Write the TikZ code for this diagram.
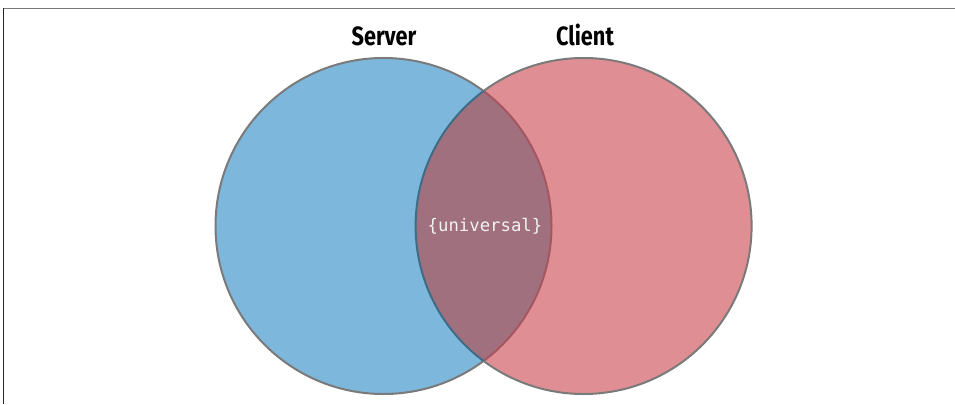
\documentclass[tikz,border=0pt]{standalone}
\usepackage{fontspec}
\newfontfamily\labelfont[FakeStretch=0.82]{Fira Sans}
\newfontfamily\codefont{DejaVu Sans Mono}
\definecolor{srvblue}{HTML}{7EB7DC}
\definecolor{clired}{HTML}{DF8F94}
\definecolor{overlap}{HTML}{A0707F}
\definecolor{rimgray}{HTML}{7A7A7A}
\definecolor{rimblue}{HTML}{3E6C85}
\definecolor{rimred}{HTML}{A65660}
\definecolor{codewhite}{HTML}{F2F2F2}
\tikzset{
  setlabel/.style={font=\labelfont\bfseries\fontsize{26.5}{26.5}\selectfont, text=black, anchor=base, inner sep=0pt},
  codelabel/.style={font=\codefont\fontsize{17.3}{17.3}\selectfont, text=codewhite, inner sep=0pt},
  rim/.style={line width=2pt}
}
\begin{document}
\begin{tikzpicture}[x=1pt,y=-1pt]
\useasboundingbox (0,0) rectangle (955,404);
\fill[white] (0,0) rectangle (955,404);
% frame
\draw[rimgray, line width=1.4pt] (3.5,8.7) -- (955,8.7);
\draw[black!85, line width=1.2pt] (3.7,8) -- (3.7,404);
% circles
\coordinate (cs) at (383.5,226);
\coordinate (cc) at (583.6,226);
\fill[srvblue] (cs) circle[radius=168];
\fill[clired] (cc) circle[radius=168];
\begin{scope}
  \clip (cs) circle[radius=168];
  \fill[overlap] (cc) circle[radius=168];
\end{scope}
% rims
\begin{scope}[even odd rule]
  \clip (0,0) rectangle (955,404) (cc) circle[radius=168];
  \draw[rim, rimgray] (cs) circle[radius=168];
\end{scope}
\begin{scope}
  \clip (cc) circle[radius=168];
  \draw[rim, rimred] (cs) circle[radius=168];
\end{scope}
\begin{scope}[even odd rule]
  \clip (0,0) rectangle (955,404) (cs) circle[radius=168];
  \draw[rim, rimgray] (cc) circle[radius=168];
\end{scope}
\begin{scope}
  \clip (cs) circle[radius=168];
  \draw[rim, rimblue] (cc) circle[radius=168];
\end{scope}
\node[setlabel] (server) at (384,46) {Server};
\node[setlabel] (client) at (585,46) {Client};
\node[codelabel] (universal) at (485,226) {\{universal\}};
\end{tikzpicture}
\end{document}
